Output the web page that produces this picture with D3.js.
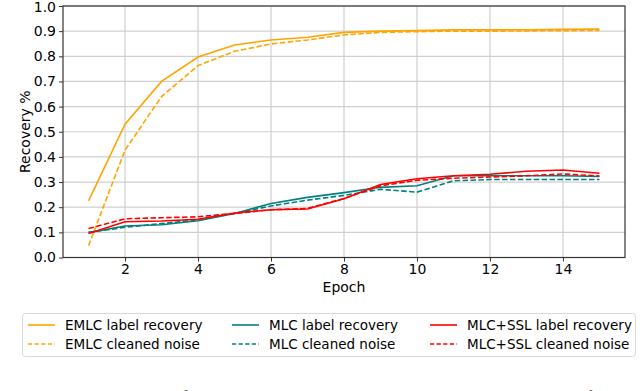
<!DOCTYPE html>
<html>
<head>
<meta charset="utf-8">
<script src="https://cdn.jsdelivr.net/npm/d3@7"></script>
<style>
  body { margin: 0; background: #fff; }
  svg { display: block; font-family: "DejaVu Sans", sans-serif; }
</style>
</head>
<body>
<div id="chart"></div>
<script>
// epochs 1..15
var epochs = d3.range(1, 16);

var emlcRecovery = [0.225, 0.53, 0.70, 0.797, 0.845, 0.865, 0.876, 0.895, 0.900, 0.902, 0.905, 0.905, 0.905, 0.907, 0.908];
var emlcCleaned  = [0.047, 0.427, 0.64, 0.763, 0.82, 0.849, 0.865, 0.885, 0.895, 0.898, 0.900, 0.900, 0.901, 0.902, 0.903];
var mlcRecovery  = [0.099, 0.125, 0.130, 0.146, 0.175, 0.215, 0.239, 0.258, 0.279, 0.285, 0.325, 0.325, 0.325, 0.325, 0.322];
var mlcCleaned   = [0.100, 0.120, 0.135, 0.150, 0.175, 0.205, 0.228, 0.247, 0.271, 0.260, 0.305, 0.310, 0.310, 0.310, 0.310];
var sslRecovery  = [0.095, 0.142, 0.145, 0.152, 0.177, 0.190, 0.193, 0.234, 0.290, 0.313, 0.325, 0.331, 0.343, 0.348, 0.335];
var sslCleaned   = [0.115, 0.154, 0.158, 0.162, 0.175, 0.190, 0.195, 0.235, 0.285, 0.307, 0.315, 0.320, 0.325, 0.332, 0.324];

var xTicks = [2, 4, 6, 8, 10, 12, 14];
var yTicks = d3.range(0, 11).map(function (i) { return i / 10; });

var series = [
  { name: "EMLC label recovery", values: emlcRecovery, color: "#ffa500", dash: null },
  { name: "EMLC cleaned noise", values: emlcCleaned, color: "#ffa500", dash: "5.5,2.4" },
  { name: "MLC label recovery", values: mlcRecovery, color: "#008080", dash: null },
  { name: "MLC cleaned noise", values: mlcCleaned, color: "#008080", dash: "5.5,2.4" },
  { name: "MLC+SSL label recovery", values: sslRecovery, color: "#ff0000", dash: null },
  { name: "MLC+SSL cleaned noise", values: sslCleaned, color: "#ff0000", dash: "5.5,2.4" }
];

var width = 640, height = 391;
var plot = { left: 63, right: 625, top: 6, bottom: 257.5 };

var svg = d3.select("#chart").append("svg")
  .attr("width", width)
  .attr("height", height);

var x = d3.scaleLinear().domain([0.3, 15.7]).range([plot.left, plot.right]);
var y = d3.scaleLinear().domain([0, 1]).range([plot.bottom, plot.top]);

// grid
svg.append("g").selectAll("line").data(xTicks).enter().append("line")
  .attr("x1", function (d) { return x(d); }).attr("x2", function (d) { return x(d); })
  .attr("y1", plot.top).attr("y2", plot.bottom)
  .attr("stroke", "#cfcfcf").attr("stroke-width", 1.2);
svg.append("g").selectAll("line").data(yTicks).enter().append("line")
  .attr("y1", function (d) { return y(d); }).attr("y2", function (d) { return y(d); })
  .attr("x1", plot.left).attr("x2", plot.right)
  .attr("stroke", "#cfcfcf").attr("stroke-width", 1.2);

// lines
var line = d3.line()
  .x(function (d, i) { return x(epochs[i]); })
  .y(function (d) { return y(d); });

svg.append("g").selectAll("path").data(series).enter().append("path")
  .attr("d", function (s) { return line(s.values); })
  .attr("fill", "none")
  .attr("stroke", function (s) { return s.color; })
  .attr("stroke-width", 1.6)
  .attr("stroke-dasharray", function (s) { return s.dash; });

// axes
var xAxis = d3.axisBottom(x).tickValues(xTicks).tickSize(4).tickPadding(3).tickFormat(d3.format("d"));
var yAxis = d3.axisLeft(y).tickValues(yTicks).tickSize(4).tickPadding(3).tickFormat(d3.format(".1f"));

var gx = svg.append("g").attr("transform", "translate(0," + plot.bottom + ")").call(xAxis);
var gy = svg.append("g").attr("transform", "translate(" + plot.left + ",0)").call(yAxis);
[gx, gy].forEach(function (g) {
  g.select(".domain").remove();
  g.selectAll(".tick line").attr("stroke", "#333");
  g.selectAll(".tick text").attr("font-size", 14).attr("fill", "#000")
    .attr("font-family", "DejaVu Sans, sans-serif");
});
// keep the top label inside the picture
gy.selectAll(".tick text").filter(function (d) { return d === 1; }).attr("dy", "0.40em");

// frame
svg.append("rect")
  .attr("x", plot.left).attr("y", plot.top)
  .attr("width", plot.right - plot.left).attr("height", plot.bottom - plot.top)
  .attr("fill", "none").attr("stroke", "#333").attr("stroke-width", 1.2);

// axis titles
svg.append("text")
  .attr("x", x(8)).attr("y", 292)
  .attr("text-anchor", "middle").attr("font-size", 14)
  .text("Epoch");
svg.append("text")
  .attr("transform", "translate(30," + ((plot.top + plot.bottom) / 2) + ") rotate(-90)")
  .attr("text-anchor", "middle").attr("font-size", 14)
  .text("Recovery %");

// legend
var legend = svg.append("g");
legend.append("rect")
  .attr("x", 22.5).attr("y", 313.5).attr("width", 613).attr("height", 43).attr("rx", 3)
  .attr("fill", "#fff").attr("stroke", "#d8d8d8");

var colX = [28, 232, 430];
var rowY = [325, 344];
var items = legend.selectAll("g").data(series).enter().append("g")
  .attr("transform", function (s, i) {
    return "translate(" + colX[Math.floor(i / 2)] + "," + rowY[i % 2] + ")";
  });
items.append("line")
  .attr("x1", 0).attr("x2", 27).attr("y1", 0).attr("y2", 0)
  .attr("stroke", function (s) { return s.color; })
  .attr("stroke-width", 1.6)
  .attr("stroke-dasharray", function (s) { return s.dash ? "4.2,2.4" : null; });
items.append("text")
  .attr("x", 37).attr("y", 5)
  .attr("font-size", 13.5)
  .text(function (s) { return s.name; });

// caption, cut off at the bottom edge as in the source
svg.append("text")
  .attr("x", 0).attr("y", 404)
  .attr("font-family", "Liberation Serif, serif").attr("font-size", 19)
  .attr("fill", "#444")
  .text("Figure 4: Comparison of the original label recovery and noise cleaning rate of all methods");
</script>
</body>
</html>
